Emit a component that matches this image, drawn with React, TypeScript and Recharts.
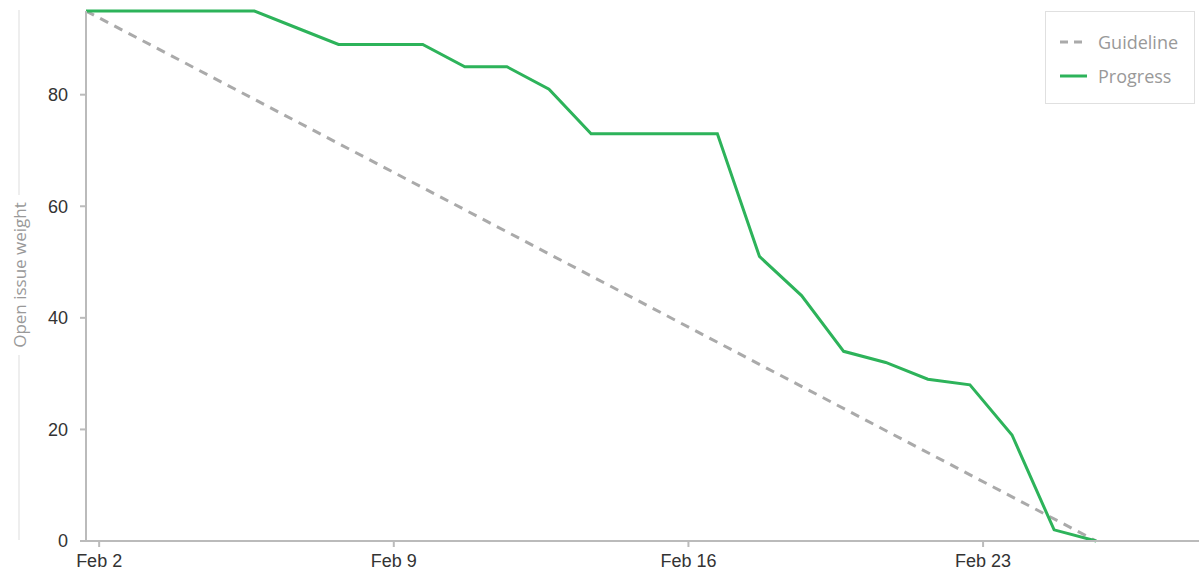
import { LineChart, Line, XAxis, YAxis } from 'recharts';

// dias de fevereiro com snapshot (registrado ~16:30)
const snapshotDays = [1, 2, 3, 4, 5, 6, 7, 8, 9, 10, 11, 12, 13, 14, 15, 16, 17, 18, 19, 20, 21, 22, 23, 24, 25];
const SNAPSHOT_HOUR = 16.5;

const progressValues = [95, 95, 95, 95, 95, 92, 89, 89, 89, 85, 85, 81, 73, 73, 73, 73, 51, 44, 34, 32, 29, 28, 19, 2, 0];

const guidelineStart = 95;
const guidelineEnd = 0;

const xTicks = [2, 9, 16, 23];
const yTicks = [0, 20, 40, 60, 80];

const GREEN = '#2db35a';
const GRAY = '#aaaaaa';

const data = snapshotDays.map((d, i) => ({
  x: d + SNAPSHOT_HOUR / 24,
  progress: progressValues[i],
  guideline: i === 0 ? guidelineStart : i === snapshotDays.length - 1 ? guidelineEnd : null,
}));

const legendItems = [
  { name: 'Guideline', color: GRAY, dash: '8 6' },
  { name: 'Progress', color: GREEN, dash: undefined },
];

const renderYLabel = () => {
  const cx = 19;
  const mid = 275;
  return (
    <g>
      <line x1={cx} y1={10} x2={cx} y2={mid - 80} stroke="#dddddd" strokeWidth={1} />
      <line x1={cx} y1={mid + 80} x2={cx} y2={540} stroke="#dddddd" strokeWidth={1} />
      <text
        x={cx}
        y={mid}
        transform={`rotate(-90, ${cx}, ${mid})`}
        textAnchor="middle"
        dominantBaseline="central"
        fill="#999999"
        fontSize={17}
        fontFamily="'Open Sans', sans-serif"
      >
        Open issue weight
      </text>
    </g>
  );
};

export default function App() {
  return (
    <div style={{ position: 'absolute', left: 0, top: 0, width: 1199, height: 580, background: '#fff' }}>
      <LineChart width={1199} height={580} data={data} margin={{ top: 11, right: 0, left: 0, bottom: 0 }}>
        <XAxis
          dataKey="x"
          type="number"
          domain={[snapshotDays[0] + SNAPSHOT_HOUR / 24, 28.13]}
          ticks={xTicks}
          tickFormatter={(v) => `Feb ${v}`}
          allowDataOverflow
          height={39}
          tickSize={6}
          tickMargin={7}
          stroke="#bbbbbb"
          strokeWidth={2}
          tick={{ fill: '#333', fontSize: 18, fontFamily: "'Liberation Sans', Arial, sans-serif" }}
        />
        <YAxis
          type="number"
          domain={[0, 95]}
          ticks={yTicks}
          width={86}
          tickSize={6}
          tickMargin={12}
          stroke="#bbbbbb"
          strokeWidth={2}
          tick={{ fill: '#333', fontSize: 18, fontFamily: "'Liberation Sans', Arial, sans-serif" }}
          label={{ content: renderYLabel }}
        />
        <Line
          type="linear"
          dataKey="guideline"
          name="Guideline"
          stroke={GRAY}
          strokeWidth={3}
          strokeDasharray="9 7"
          connectNulls
          dot={false}
          isAnimationActive={false}
        />
        <Line
          type="linear"
          dataKey="progress"
          name="Progress"
          stroke={GREEN}
          strokeWidth={3}
          dot={false}
          isAnimationActive={false}
        />
      </LineChart>
      <div
        style={{
          position: 'absolute',
          left: 1045,
          top: 11,
          width: 148,
          height: 91,
          border: '1px solid #e0e0e0',
          background: '#fff',
          fontFamily: "'Open Sans', sans-serif",
          fontSize: 18,
          color: '#999',
        }}
      >
        {legendItems.map((item, i) => (
          <div
            key={item.name}
            style={{ position: 'absolute', left: 14, top: 17 + i * 34, height: 26, display: 'flex', alignItems: 'center' }}
          >
            <svg width={28} height={6} style={{ marginRight: 10 }}>
              <line x1={0} y1={3} x2={27} y2={3} stroke={item.color} strokeWidth={3} strokeDasharray={item.dash} />
            </svg>
            <span>{item.name}</span>
          </div>
        ))}
      </div>
    </div>
  );
}
